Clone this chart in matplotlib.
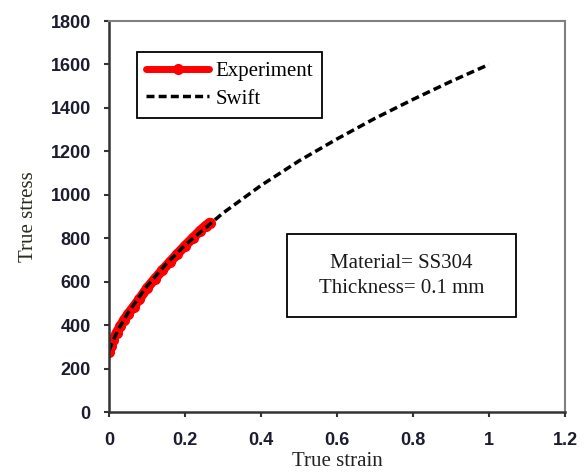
import matplotlib.pyplot as plt
from matplotlib.patches import Rectangle

# --------------------
# DATA
# --------------------
exp_strain = [0.0, 0.005, 0.01, 0.02, 0.03, 0.04, 0.05, 0.065, 0.08, 0.1, 0.12, 0.14,
              0.16, 0.18, 0.2, 0.22, 0.24, 0.255, 0.265]
exp_stress = [275, 305, 330, 365, 395, 425, 450, 485, 520, 570, 612, 652,
              690, 728, 765, 800, 835, 858, 872]

swift_strain = [0.0, 0.01, 0.02, 0.03, 0.05, 0.1, 0.15, 0.2, 0.3, 0.4, 0.5,
                0.6, 0.7, 0.8, 0.9, 1.0]
swift_stress = [283, 326, 363, 397, 457, 580, 681, 768, 916, 1043, 1156,
                1257, 1352, 1439, 1522, 1600]

x_ticks = [0, 0.2, 0.4, 0.6, 0.8, 1, 1.2]
x_labels = ['0', '0.2', '0.4', '0.6', '0.8', '1', '1.2']
y_ticks = [0, 200, 400, 600, 800, 1000, 1200, 1400, 1600, 1800]

SERIF = 'Liberation Serif'
SANS = 'Liberation Sans'
TICK_COLOR = '#1c1c30'

# --------------------
# PLOTTING
# --------------------
fig = plt.figure(figsize=(5.88, 4.72), dpi=100)
ax = fig.add_axes([0.1854, 0.1271, 0.7755, 0.8284])

ax.plot(exp_strain, exp_stress, '-', color='#ff0000', lw=7, marker='o', ms=7,
        label='Experiment', solid_capstyle='round')
ax.plot(swift_strain, swift_stress, color='black', lw=2.5, ls=(0, (2.3, 1.2)),
        label='Swift')

ax.set_xlim(0, 1.2)
ax.set_ylim(0, 1800)
ax.set_xticks(x_ticks)
ax.set_xticklabels(x_labels)
ax.set_yticks(y_ticks)
for lab in ax.get_xticklabels() + ax.get_yticklabels():
    lab.set_fontfamily(SANS)
    lab.set_fontweight('bold')
    lab.set_fontsize(13)
    lab.set_color(TICK_COLOR)
ax.tick_params(direction='out', length=3.6, width=1.5, color='#333333')
ax.tick_params(axis='x', pad=11)
ax.tick_params(axis='y', pad=9.5)

ax.set_xlabel('True strain', family=SERIF, fontsize=15, color='#222222', labelpad=2)
ax.set_ylabel('True stress', family=SERIF, fontsize=15, color='#2b2b1f', labelpad=9)

for side in ['left', 'bottom']:
    ax.spines[side].set_color('#333333')
    ax.spines[side].set_linewidth(1.8)
for side in ['top', 'right']:
    ax.spines[side].set_color('#808080')
    ax.spines[side].set_linewidth(1.5)

leg = ax.legend(loc='upper left', bbox_to_anchor=(0.0614, 0.921), borderaxespad=0,
                prop={'family': SERIF, 'size': 15}, frameon=True, fancybox=False,
                edgecolor='black', framealpha=1, handlelength=3.0, handletextpad=0.3,
                borderpad=0.45, labelspacing=0.4)
leg.get_frame().set_linewidth(1.3)
leg.legend_handles[0].set_linewidth(5)

ax.add_patch(Rectangle((0.390, 0.243), 0.503, 0.212, transform=ax.transAxes,
                       fill=False, edgecolor='black', lw=1.3))
ax.text(0.641, 0.348, 'Material= SS304\nThickness= 0.1 mm', transform=ax.transAxes,
        ha='center', va='center', family=SERIF, fontsize=15, color='#1a1a1a',
        linespacing=1.45)

plt.savefig('out.png', dpi=100)
